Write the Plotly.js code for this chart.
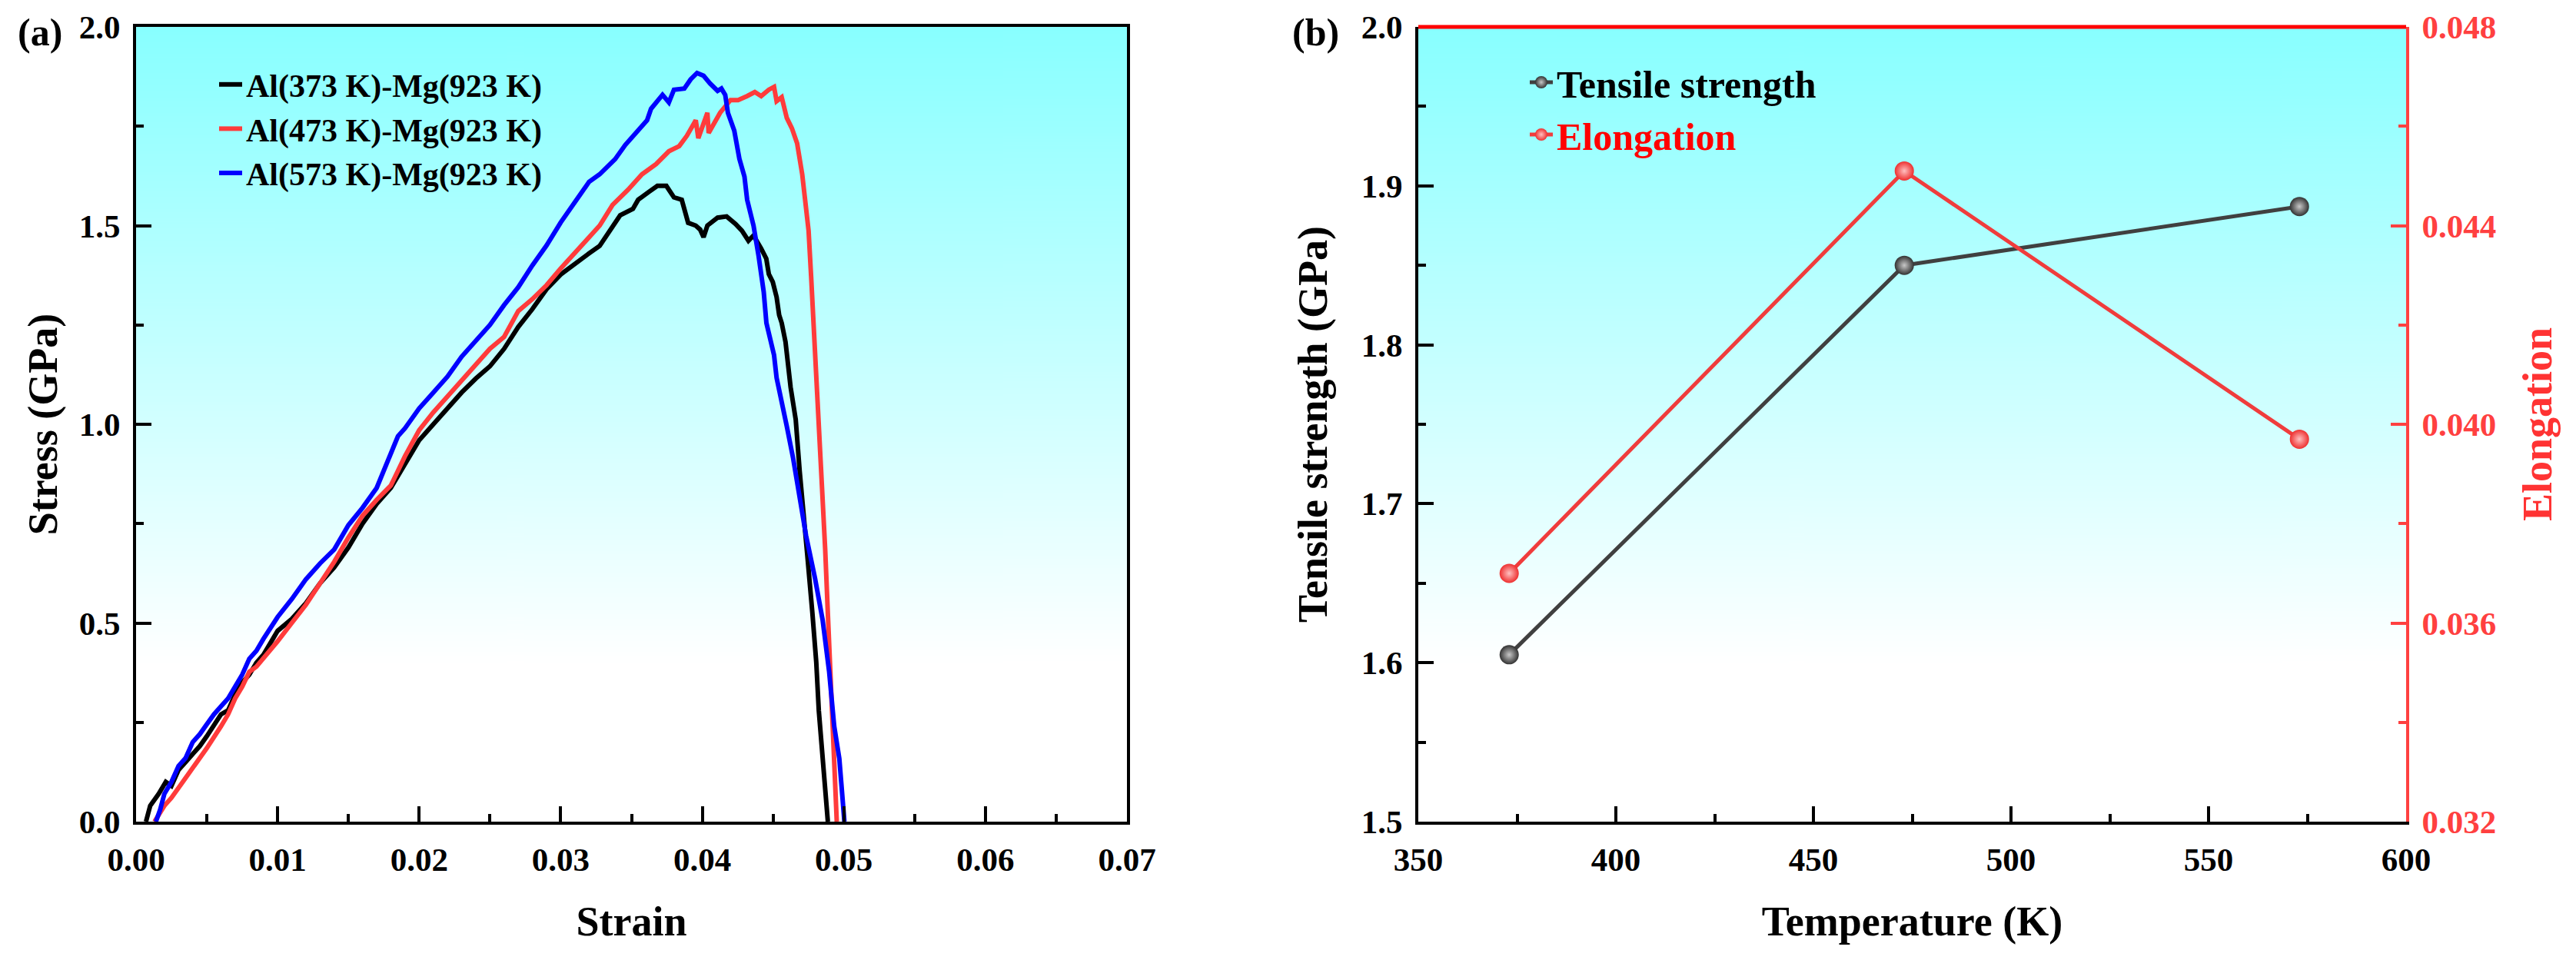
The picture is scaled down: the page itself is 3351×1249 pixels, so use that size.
<!DOCTYPE html>
<html>
<head>
<meta charset="utf-8">
<script src="https://cdn.plot.ly/plotly-3.0.1.min.js"></script>
<style>
  html, body { margin: 0; padding: 0; background: #fff; }
  #chart { width: 3351px; height: 1249px; }
</style>
</head>
<body>
<div id="chart"></div>
<script>
// (a) stress-strain curves
const strain373 = [0.0007,0.0010,0.0016,0.0021,0.0025,0.0030,0.0035,0.0040,0.0045,0.0050,0.0055,0.0060,0.0065,0.0070,0.0075,0.0080,0.0085,0.0090,0.0095,0.0100,0.0110,0.0120,0.0130,0.0140,0.0150,0.0160,0.0170,0.0180,0.0185,0.0190,0.0200,0.0210,0.0220,0.0230,0.0240,0.0250,0.0260,0.0270,0.0280,0.0290,0.0300,0.0310,0.0320,
  0.03275,0.03348,0.0342,0.0351,0.03547,0.03619,0.03683,0.03746,0.0380,0.03855,0.03873,0.0390,0.03954,0.03985,0.04009,0.04036,0.04108,0.04172,0.04235,0.0428,0.04326,0.04362,0.04416,0.04452,0.0447,0.04498,0.04525,0.04543,0.04561,0.04588,0.04624,0.0466,0.04688,0.04715,0.04742,0.04778,0.04805,0.04823,0.0485,0.04877,0.04887];
const stress373 = [0,0.04,0.07,0.10,0.09,0.13,0.15,0.17,0.19,0.215,0.24,0.27,0.28,0.32,0.35,0.37,0.40,0.42,0.45,0.48,0.51,0.55,0.60,0.64,0.69,0.75,0.80,0.84,0.87,0.90,0.96,1.00,1.04,1.08,1.115,1.146,1.19,1.245,1.29,1.34,1.377,1.405,1.43,
  1.449,1.487,1.526,1.542,1.565,1.584,1.600,1.600,1.571,1.565,1.539,1.507,1.500,1.49,1.471,1.500,1.520,1.523,1.504,1.487,1.462,1.475,1.442,1.417,1.378,1.358,1.320,1.275,1.255,1.207,1.093,1.012,0.882,0.784,0.670,0.524,0.402,0.280,0.159,0.070,0];

const strain473 = [0.0013,0.0017,0.0020,0.0025,0.0030,0.0035,0.0040,0.0045,0.0050,0.0055,0.0060,0.0065,0.0070,0.0075,0.0080,0.0085,0.0090,0.0095,0.0100,0.0110,0.0120,0.0130,0.0140,0.0150,0.0160,0.0170,0.0180,0.0190,0.0200,0.0210,0.0220,0.0230,0.0240,0.0250,0.0260,0.0270,0.0280,0.0290,0.0300,0.0310,0.0320,
  0.03275,0.03366,0.03475,0.03574,0.03674,0.03764,0.03837,0.03891,0.03954,0.03972,0.04036,0.04045,0.04126,0.04199,0.04253,0.04317,0.04371,0.04416,0.0447,0.04507,0.04525,0.04561,0.04597,0.04633,0.0467,0.04706,0.04733,0.04751,0.04769,0.04787,0.04805,0.04832,0.0485,0.04868,0.04887,0.04905,0.04923,0.04941,0.0495];
const stress473 = [0,0.02,0.04,0.06,0.085,0.11,0.14,0.16,0.185,0.21,0.24,0.27,0.31,0.34,0.377,0.39,0.41,0.43,0.454,0.50,0.546,0.60,0.654,0.715,0.77,0.81,0.846,0.92,0.985,1.03,1.07,1.11,1.146,1.19,1.22,1.285,1.315,1.35,1.392,1.43,1.47,
  1.500,1.552,1.590,1.629,1.655,1.687,1.700,1.726,1.765,1.720,1.784,1.733,1.784,1.816,1.816,1.826,1.836,1.826,1.842,1.849,1.813,1.823,1.771,1.745,1.707,1.629,1.552,1.487,1.371,1.255,1.133,0.971,0.833,0.687,0.524,0.362,0.199,0.077,0];

const strain573 = [0.0014,0.0017,0.0020,0.0025,0.0030,0.0035,0.0040,0.0045,0.0050,0.0055,0.0060,0.0065,0.0070,0.0075,0.0080,0.0085,0.0090,0.0095,0.0100,0.0110,0.0120,0.0130,0.0140,0.0150,0.0160,0.0170,0.0180,0.0185,0.0190,0.0200,0.0210,0.0220,0.0230,0.0240,0.0250,0.0260,0.0270,0.0280,0.0290,0.0300,0.0310,0.0320,
  0.03275,0.03384,0.03456,0.03547,0.0361,0.03638,0.03719,0.03764,0.0380,0.03873,0.03918,0.03963,0.04009,0.04054,0.04108,0.04135,0.04162,0.04181,0.04226,0.04262,0.04298,0.04317,0.04362,0.04398,0.04434,0.04453,0.04507,0.04525,0.04561,0.04597,0.04642,0.0467,0.04706,0.04733,0.04796,0.0485,0.04896,0.04932,0.04968,0.04986,0.04995,0.05004];
const stress573 = [0,0.03,0.07,0.10,0.14,0.16,0.20,0.22,0.245,0.27,0.29,0.31,0.34,0.37,0.41,0.43,0.46,0.49,0.515,0.56,0.61,0.65,0.685,0.746,0.79,0.84,0.93,0.97,0.99,1.04,1.08,1.12,1.17,1.21,1.25,1.30,1.345,1.40,1.45,1.508,1.56,1.61,
  1.629,1.667,1.703,1.739,1.765,1.794,1.829,1.810,1.842,1.845,1.868,1.884,1.877,1.858,1.839,1.845,1.829,1.784,1.739,1.668,1.623,1.565,1.500,1.423,1.333,1.255,1.174,1.117,1.060,0.995,0.914,0.849,0.768,0.720,0.613,0.508,0.378,0.240,0.159,0.085,0.037,0];

// (b) temperature dependence
const temps = [373, 473, 573];
const tensileGPa = [1.605, 1.850, 1.887];
const elongation = [0.0370, 0.0451, 0.0397];

const FONT = "Liberation Serif, 'Times New Roman', serif";
const RED = "#ff4040";

function bgGradient(){
  const c = document.createElement("canvas");
  c.width = 4; c.height = 512;
  const g = c.getContext("2d");
  const lg = g.createLinearGradient(0, 0, 0, 512);
  lg.addColorStop(0, "#88ffff");
  lg.addColorStop(0.8, "#ffffff");
  lg.addColorStop(1, "#ffffff");
  g.fillStyle = lg; g.fillRect(0, 0, 4, 512);
  return c.toDataURL();
}
const bg = bgGradient();

function tickFont(color){ return {family: FONT, size: 43, color: color || "#000", weight: "bold"}; }
function titleFont(color){ return {family: FONT, size: 54, color: color || "#000", weight: "bold"}; }
function axisBase(color){
  return {
    showline: true, linewidth: 4, linecolor: color || "#000",
    ticks: "inside", ticklen: 20, tickwidth: 4, tickcolor: color || "#000",
    showgrid: false, zeroline: false, tickfont: tickFont(color),
    ticklabelstandoff: 8
  };
}

const traces = [
  {x: strain373, y: stress373, name: "Al(373 K)-Mg(923 K)", mode: "lines", line: {color: "#000000", width: 6}, xaxis: "x", yaxis: "y", legend: "legend", legendgroup: "a1"},
  {x: strain473, y: stress473, name: "Al(473 K)-Mg(923 K)", mode: "lines", line: {color: "#ff3b3b", width: 6}, xaxis: "x", yaxis: "y", legend: "legend", legendgroup: "a2"},
  {x: strain573, y: stress573, name: "Al(573 K)-Mg(923 K)", mode: "lines", line: {color: "#0000ff", width: 6}, xaxis: "x", yaxis: "y", legend: "legend", legendgroup: "a3"},
  {x: temps, y: tensileGPa, name: "Tensile strength", mode: "lines+markers", line: {color: "#404040", width: 5},
    marker: {size: 25, color: "#333333", line: {width: 0}, gradient: {type: "radial", color: "#c8c8c8"}},
    xaxis: "x2", yaxis: "y2", legend: "legend2", legendgroup: "b1"},
  {x: temps, y: elongation, name: "<span style='color:#ff0000'>Elongation</span>", mode: "lines+markers", line: {color: "#f03c3c", width: 5},
    marker: {size: 25, color: "#ee3030", line: {width: 0}, gradient: {type: "radial", color: "#ffc0c0"}},
    xaxis: "x2", yaxis: "y3", legend: "legend2", legendgroup: "b2"}
];

const yDom = [1 - 1069/1249, 1 - 35/1249];

const layout = {
  width: 3351, height: 1249,
  margin: {l: 0, r: 0, t: 0, b: 0},
  paper_bgcolor: "#ffffff", plot_bgcolor: "rgba(0,0,0,0)",
  font: {family: FONT, color: "#000", weight: "bold"},
  xaxis: Object.assign(axisBase(), {
    domain: [177/3351, 1466/3351], anchor: "y", range: [0, 0.07], dtick: 0.01, tick0: 0, tickformat: ".2f", mirror: true,
    minor: {dtick: 0.005, ticklen: 10, tickwidth: 4, tickcolor: "#000", ticks: "inside"},
    title: {text: "Strain", font: titleFont(), standoff: 40}
  }),
  yaxis: Object.assign(axisBase(), {
    domain: yDom, anchor: "x", range: [0, 2.0], dtick: 0.5, tick0: 0, tickformat: ".1f", mirror: true,
    minor: {dtick: 0.25, ticklen: 10, tickwidth: 4, tickcolor: "#000", ticks: "inside"},
    title: {text: "Stress (GPa)", font: titleFont(), standoff: 12}
  }),
  xaxis2: Object.assign(axisBase(), {
    domain: [1845/3351, 3130/3351], anchor: "y2", range: [350, 600], dtick: 50, tick0: 350,
    minor: {dtick: 25, ticklen: 10, tickwidth: 4, tickcolor: "#000", ticks: "inside"},
    title: {text: "Temperature (K)", font: titleFont(), standoff: 40}
  }),
  yaxis2: Object.assign(axisBase(), {
    domain: yDom, anchor: "x2", range: [1.5, 2.0], dtick: 0.1, tick0: 1.5, tickformat: ".1f",
    minor: {dtick: 0.05, ticklen: 10, tickwidth: 4, tickcolor: "#000", ticks: "inside"},
    title: {text: "Tensile strength (GPa)", font: titleFont(), standoff: 28}
  }),
  yaxis3: Object.assign(axisBase(RED), {
    domain: yDom, anchor: "x2", overlaying: "y2", side: "right", range: [0.032, 0.048], dtick: 0.004, tick0: 0.032, tickformat: ".3f",
    minor: {dtick: 0.002, ticklen: 10, tickwidth: 4, tickcolor: RED, ticks: "inside"},
    title: {text: "Elongation", font: titleFont("#ff3333"), standoff: 36}
  }),
  shapes: [
    {type: "line", xref: "x2 domain", yref: "y2 domain", x0: 0, x1: 1, y0: 1, y1: 1, line: {color: "#ff0000", width: 5}, layer: "above"}
  ],
  images: [
    {source: bg, xref: "x domain", yref: "y domain", x: 0, y: 1, sizex: 1, sizey: 1, sizing: "stretch", xanchor: "left", yanchor: "top", layer: "below"},
    {source: bg, xref: "x2 domain", yref: "y2 domain", x: 0, y: 1, sizex: 1, sizey: 1, sizing: "stretch", xanchor: "left", yanchor: "top", layer: "below"}
  ],
  legend: {
    x: 280/3351, y: 1 - 76/1249, xanchor: "left", yanchor: "top",
    bgcolor: "rgba(0,0,0,0)", borderwidth: 0, tracegroupgap: 0,
    font: {family: FONT, size: 42, color: "#000", weight: "bold"}
  },
  legend2: {
    x: 1985/3351, y: 1 - 68/1249, xanchor: "left", yanchor: "top",
    bgcolor: "rgba(0,0,0,0)", borderwidth: 0, tracegroupgap: 0,
    font: {family: FONT, size: 50, color: "#000", weight: "bold"}
  },
  annotations: [
    {text: "(a)", xref: "paper", yref: "paper", x: 52/3351, y: 1 - 42/1249, xanchor: "center", yanchor: "middle", showarrow: false,
      font: {family: FONT, size: 50, color: "#000", weight: "bold"}},
    {text: "(b)", xref: "paper", yref: "paper", x: 1711/3351, y: 1 - 42/1249, xanchor: "center", yanchor: "middle", showarrow: false,
      font: {family: FONT, size: 50, color: "#000", weight: "bold"}}
  ]
};

Plotly.newPlot("chart", traces, layout, {displayModeBar: false, staticPlot: true});
</script>
</body>
</html>
